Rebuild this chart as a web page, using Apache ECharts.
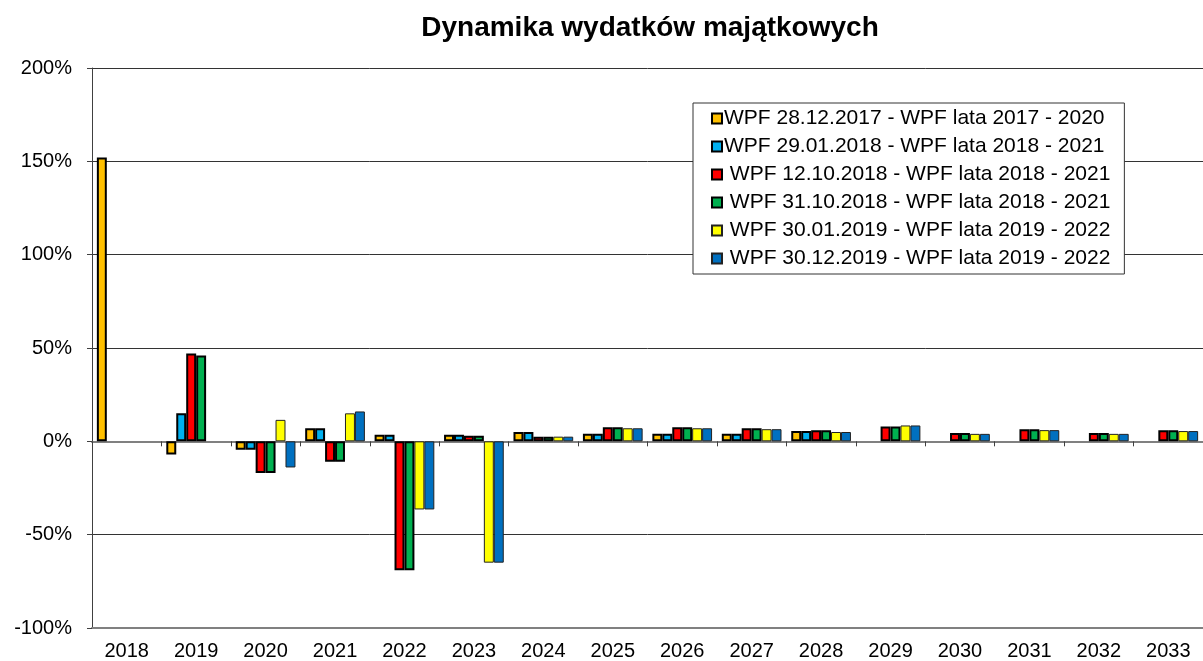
<!DOCTYPE html>
<html>
<head>
<meta charset="utf-8">
<title>Dynamika wydatków majątkowych</title>
<script src="https://cdn.jsdelivr.net/npm/echarts@6/dist/echarts.min.js"></script>
<style>
  html, body { margin: 0; padding: 0; background: #fff; }
  #chart { width: 1203px; height: 661px; }
</style>
</head>
<body>
<div id="chart"></div>
<script>
// data (%)
var years = ['2018', '2019', '2020', '2021', '2022', '2023', '2024', '2025',
  '2026', '2027', '2028', '2029', '2030', '2031', '2032', '2033']
var wpf20171228 = [152, -7, -4.5, 7, 3.5, 3.5, 5, 4, 4, 4, 5.5, null, null, null, null, null]
var wpf20180129 = [null, 15, -4.5, 7, 3.5, 3.5, 5, 4, 4, 4, 5.5, null, null, null, null, null]
var wpf20181012 = [null, 47, -17, -11, -69, 3, 2.5, 7.5, 7.5, 7, 6, 8, 4.5, 6.5, 4.5, 6]
var wpf20181031 = [null, 46, -17, -11, -69, 3, 2.5, 7.5, 7.5, 7, 6, 8, 4.5, 6.5, 4.5, 6]
var wpf20190130 = [null, null, 11.5, 15, -36.5, -65, 2.5, 7, 7, 6.5, 5, 8.5, 4, 6, 4, 5.5]
var wpf20191230 = [null, null, -14, 16, -36.5, -65, 2.5, 7, 7, 6.5, 5, 8.5, 4, 6, 4, 5.5]
var yTicks = [-100, 200, 50]

var seriesNames = [
  'WPF 28.12.2017 - WPF lata 2017 - 2020',
  'WPF 29.01.2018 - WPF lata 2018 - 2021',
  ' WPF 12.10.2018 - WPF lata 2018 - 2021',
  ' WPF 31.10.2018 - WPF lata 2018 - 2021',
  ' WPF 30.01.2019 - WPF lata 2019 - 2022',
  ' WPF 30.12.2019 - WPF lata 2019 - 2022'
]
var seriesData = [wpf20171228, wpf20180129, wpf20181012, wpf20181031, wpf20190130, wpf20191230]
var colors = ['#FFC000', '#00B0F0', '#FF0000', '#00B050', '#FFFF00', '#0070C0']

var font = 'Liberation Sans, Arial, sans-serif'

var chart = echarts.init(document.getElementById('chart'))

chart.setOption({
  animation: false,
  textStyle: { fontFamily: font },
  title: {
    text: 'Dynamika wydatków majątkowych',
    left: 645,
    textAlign: 'center',
    top: 9,
    textStyle: { fontSize: 28, fontWeight: 'bold', color: '#000', fontFamily: font }
  },
  legend: {
    orient: 'vertical',
    left: 693,
    top: 103,
    padding: [5, 14, 5, 18],
    itemGap: 7,
    itemWidth: 10,
    itemHeight: 10,
    icon: 'rect',
    backgroundColor: '#fff',
    borderColor: '#333',
    borderWidth: 1,
    textStyle: { fontSize: 21, color: '#000', fontFamily: font, padding: [0, 0, 0, -3] },
    data: seriesNames
  },
  grid: { left: 92, top: 68, width: 1114, bottom: 33, containLabel: false },
  xAxis: [
    {
      // axis line at 0%
      type: 'category',
      data: years,
      position: 'top',
      axisLine: { onZero: true, lineStyle: { color: '#808080', width: 2 } },
      axisTick: { show: true, inside: true, length: 5, lineStyle: { color: '#404040' } },
      axisLabel: { show: false }
    },
    {
      type: 'category',
      data: years,
      position: 'bottom',
      axisLine: { onZero: false, lineStyle: { color: '#808080', width: 2 } },
      axisTick: { show: false },
      axisLabel: { fontSize: 20, color: '#000', margin: 13, fontFamily: font }
    }
  ],
  yAxis: {
    type: 'value',
    min: yTicks[0],
    max: yTicks[1],
    interval: yTicks[2],
    axisLine: { show: true, lineStyle: { color: '#404040', width: 1 } },
    axisTick: { show: true, length: 5, lineStyle: { color: '#404040' } },
    axisLabel: { formatter: '{value}%', fontSize: 20, color: '#000', margin: 20, fontFamily: font },
    splitLine: { lineStyle: { color: '#333', width: 1 } }
  },
  series: seriesData.map(function (d, i) {
    return {
      name: seriesNames[i],
      type: 'bar',
      xAxisIndex: 0,
      data: d,
      barGap: '0%',
      barCategoryGap: '14%',
      itemStyle: {
        color: colors[i],
        borderColor: i < 4 ? '#000' : '#222',
        borderWidth: i < 4 ? 2 : 1
      }
    }
  })
})
</script>
</body>
</html>
